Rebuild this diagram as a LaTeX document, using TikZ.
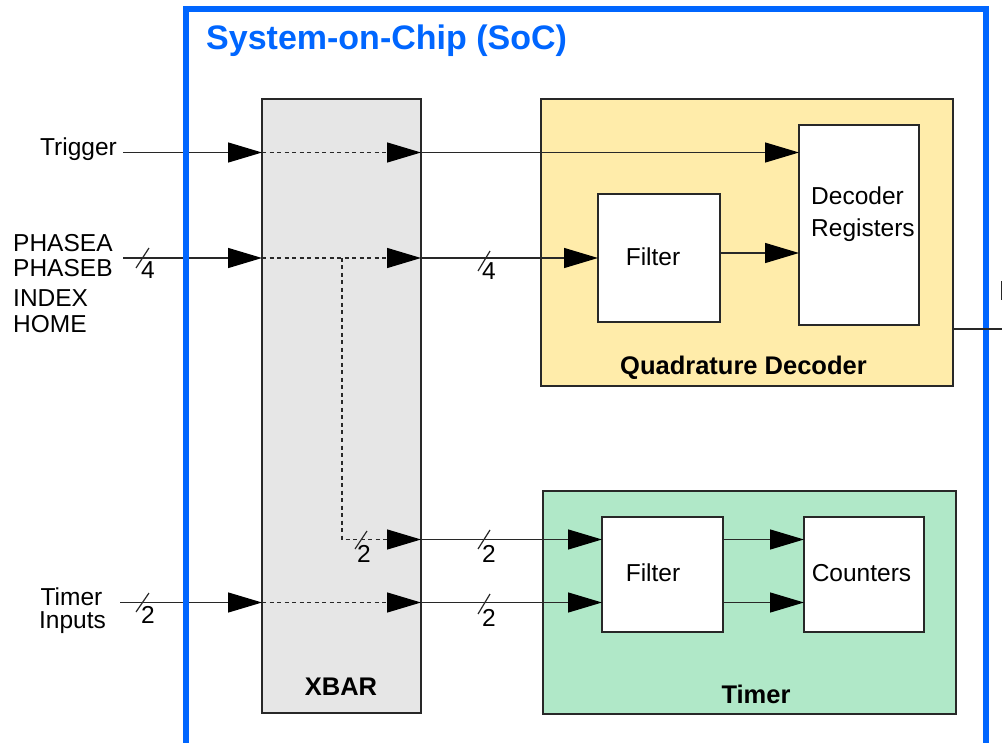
\documentclass[tikz,border=0pt]{standalone}
\usepackage{fontspec}
\setmainfont{Liberation Sans}
\usetikzlibrary{arrows.meta}
\definecolor{socblue}{RGB}{0,102,255}
\definecolor{qdyellow}{RGB}{255,236,170}
\definecolor{tmgreen}{RGB}{176,232,200}
\definecolor{xbgray}{RGB}{230,230,230}
\definecolor{ink}{RGB}{40,40,40}
\begin{document}
\begin{tikzpicture}[x=1pt,y=-1pt,
  box/.style={draw=ink, line width=1.3pt, inner sep=0pt, outer sep=0pt},
  arr/.style={draw=ink, line width=1.3pt, -{Triangle[length=34pt,width=20pt,color=black]}},
  darr/.style={arr, dash pattern=on 4pt off 3.5pt},
  wire/.style={draw=ink, line width=1.2pt},
  txt/.style={font=\fontsize{24.5}{28}\selectfont, inner sep=0pt, text=black},
  btxt/.style={font=\fontsize{25.5}{30}\selectfont\bfseries, inner sep=0pt, text=black},
  ttl/.style={font=\fontsize{34}{38}\selectfont\bfseries, inner sep=0pt, text=socblue}]
\useasboundingbox (0,0) rectangle (1002,743);

% blocks
\node[box, fill=xbgray, minimum width=159pt, minimum height=614pt] (xbar) at (341.5,406) {};
\node[box, fill=qdyellow, minimum width=412pt, minimum height=287pt] (qd) at (747,242.5) {};
\node[box, fill=white, minimum width=120pt, minimum height=200pt] (dreg) at (859,225) {};
\node[box, fill=white, minimum width=122pt, minimum height=128pt] (qf) at (659,258) {};
\node[box, fill=tmgreen, minimum width=413pt, minimum height=223pt] (tm) at (749.5,602.5) {};
\node[box, fill=white, minimum width=121pt, minimum height=115pt] (tf) at (662.5,574.5) {};
\node[box, fill=white, minimum width=120pt, minimum height=115pt] (cnt) at (864,574.5) {};

% coordinates
\coordinate (trig) at (123,152.5);
\coordinate (ph) at (123,258);
\coordinate (br) at (342,258);
\coordinate (row2) at (0,539.5);
\coordinate (tin) at (120,602.5);
\coordinate (qdout) at (1002,329);

% connectors
\draw[arr] (trig) -- (trig -| xbar.west);
\draw[darr] (trig -| xbar.west) -- (trig -| xbar.east);
\draw[arr] (trig -| xbar.east) -- (trig -| dreg.west);
\draw[arr] (ph) -- (ph -| xbar.west);
\draw[darr] (ph -| xbar.west) -- (ph -| xbar.east);
\draw[arr] (ph -| xbar.east) -- (ph -| qf.west);
\draw[darr] (br) |- (row2 -| xbar.east);
\draw[arr] (row2 -| xbar.east) -- (row2 -| tf.west);
\draw[arr] (tin) -- (tin -| xbar.west);
\draw[darr] (tin -| xbar.west) -- (tin -| xbar.east);
\draw[arr] (tin -| xbar.east) -- (tin -| tf.west);
\draw[arr] ([yshift=5pt]qf.east) -- ([yshift=5pt]qf.east -| dreg.west);
\draw[arr] (row2 -| tf.east) -- (row2 -| cnt.west);
\draw[arr] (tin -| tf.east) -- (tin -| cnt.west);

% bus width marks
\draw[wire] (136,268) -- (149,248);
\node[txt, anchor=base west] (w1) at (141,279) {4};
\draw[wire] (478,271) -- (490,251);
\node[txt, anchor=base west] (w2) at (482,280) {4};
\draw[wire] (355,549) -- (367,531);
\node[txt, anchor=base west] (w3) at (357,562) {2};
\draw[wire] (478,549) -- (490,530);
\node[txt, anchor=base west] (w4) at (482,562) {2};
\draw[wire] (478,614) -- (490,594);
\node[txt, anchor=base west] (w5) at (482,626) {2};
\draw[wire] (136,612) -- (149,593);
\node[txt, anchor=base west] (w6) at (141,623) {2};

% SoC frame
\draw[socblue, line width=5.5pt] (186,780) -- (186,9) -- (986,9) -- (986,780);
\draw[wire] (qdout -| qd.east) -- (qdout);
\draw[ink, line width=1.5pt] (1001.5,281) -- (1001.5,300);

% texts
\node[ttl, anchor=base west] (title) at (206,50) {System-on-Chip (SoC)};
\node[txt, anchor=base east] (ltrig) at (117,156) {Trigger};
\node[txt, anchor=base west] (lpa) at (13,252) {PHASEA};
\node[txt, anchor=base west] (lpb) at (13,277) {PHASEB};
\node[txt, anchor=base west] (lix) at (13,307) {INDEX};
\node[txt, anchor=base west] (lhm) at (13,333) {HOME};
\node[txt, anchor=base] (lt1) at (71.5,605) {Timer};
\node[txt, anchor=base] (lt2) at (72.5,628) {Inputs};
\node[txt, anchor=base west] (dr1) at (811,205) {Decoder};
\node[txt, anchor=base west] (dr2) at (811,237) {Registers};
\node[txt, anchor=base] (qft) at (653,266) {Filter};
\node[txt, anchor=base] (tft) at (653,581) {Filter};
\node[txt, anchor=base] (cntt) at (861.5,581) {Counters};
\node[btxt, anchor=base] (qdl) at (743.5,375) {Quadrature Decoder};
\node[btxt, anchor=base] (tml) at (756,703) {Timer};
\node[btxt, anchor=base] (xbl) at (341,695) {XBAR};
\end{tikzpicture}
\end{document}
